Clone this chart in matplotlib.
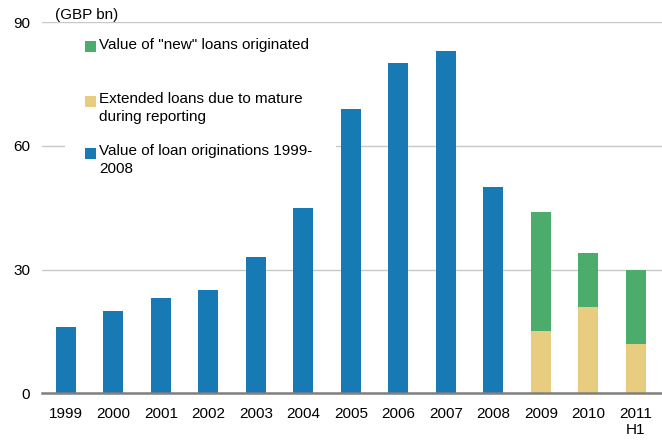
import matplotlib.pyplot as plt
from matplotlib.patches import Rectangle

plt.rcParams['font.family'] = ['Liberation Sans', 'DejaVu Sans']

# Loan originations, GBP bn
years = ["1999", "2000", "2001", "2002", "2003", "2004", "2005", "2006",
         "2007", "2008", "2009", "2010", "2011\nH1"]
originations = [16, 20, 23, 25, 33, 45, 69, 80, 83, 50, 0, 0, 0]
extended = [0, 0, 0, 0, 0, 0, 0, 0, 0, 0, 15, 21, 12]
new_loans = [0, 0, 0, 0, 0, 0, 0, 0, 0, 0, 29, 13, 18]

blue = "#177ab5"
yellow = "#e8cc80"
green = "#4cac6b"

fig = plt.figure(figsize=(6.62, 4.4), dpi=100)
ax = fig.add_axes([42 / 662, 1 - 393.3 / 440, 620 / 662, 371.3 / 440])

x = list(range(len(years)))
w = 0.42
ax.bar(x, originations, width=w, color=blue, zorder=3)
ax.bar(x, extended, width=w, color=yellow, zorder=3)
ax.bar(x, new_loans, width=w, bottom=extended, color=green, zorder=3)

ax.set_xlim(-0.5, 12.55)
ax.set_ylim(0, 90)
ax.set_yticks([0, 30, 60, 90])
ax.set_xticks(x)
ax.set_xticklabels(years, fontsize=11, linespacing=1.15)
ax.tick_params(axis="y", labelsize=11, length=0, pad=8.6)
ax.tick_params(axis="x", length=0, pad=10)

for s in ["top", "right", "left"]:
    ax.spines[s].set_visible(False)
ax.spines["bottom"].set_color("#7f7f7f")
ax.spines["bottom"].set_linewidth(1.8)
ax.spines["bottom"].set_zorder(4)

ax.yaxis.grid(True, color="#c8c8c8", linewidth=1)
ax.set_axisbelow(True)

def px(xp, yp):
    return ((xp - 42) / 620, (393.3 - yp) / 371.3)

# legend drawn by hand, on a white panel that hides the gridline behind it
x0, y0 = px(65, 190)
x1, y1 = px(336, 30)
ax.add_patch(Rectangle((x0, y0), x1 - x0, y1 - y0, transform=ax.transAxes,
                       facecolor="white", edgecolor="none", zorder=2))

items = [
    (green, 47, ['Value of "new" loans originated']),
    (yellow, 101.5, ["Extended loans due to mature", "during reporting"]),
    (blue, 153.5, ["Value of loan originations 1999-", "2008"]),
]
for col, yp, lines in items:
    mx, my = px(84.5, yp + 5.5)
    ax.add_patch(Rectangle((mx, my), 11 / 620, 11 / 371.3, transform=ax.transAxes,
                           facecolor=col, edgecolor="none", zorder=5,
                           clip_on=False))
    for i, line in enumerate(lines):
        tx, ty = px(99, yp - 2.5 + 4 + 18 * i)
        ax.text(tx, ty, line, transform=ax.transAxes, fontsize=11,
                va="baseline", ha="left", zorder=5)

fig.text(55 / 662, 1 - 19 / 440, "(GBP bn)", fontsize=11, va="baseline", ha="left")

fig.savefig("out.png", dpi=100)
